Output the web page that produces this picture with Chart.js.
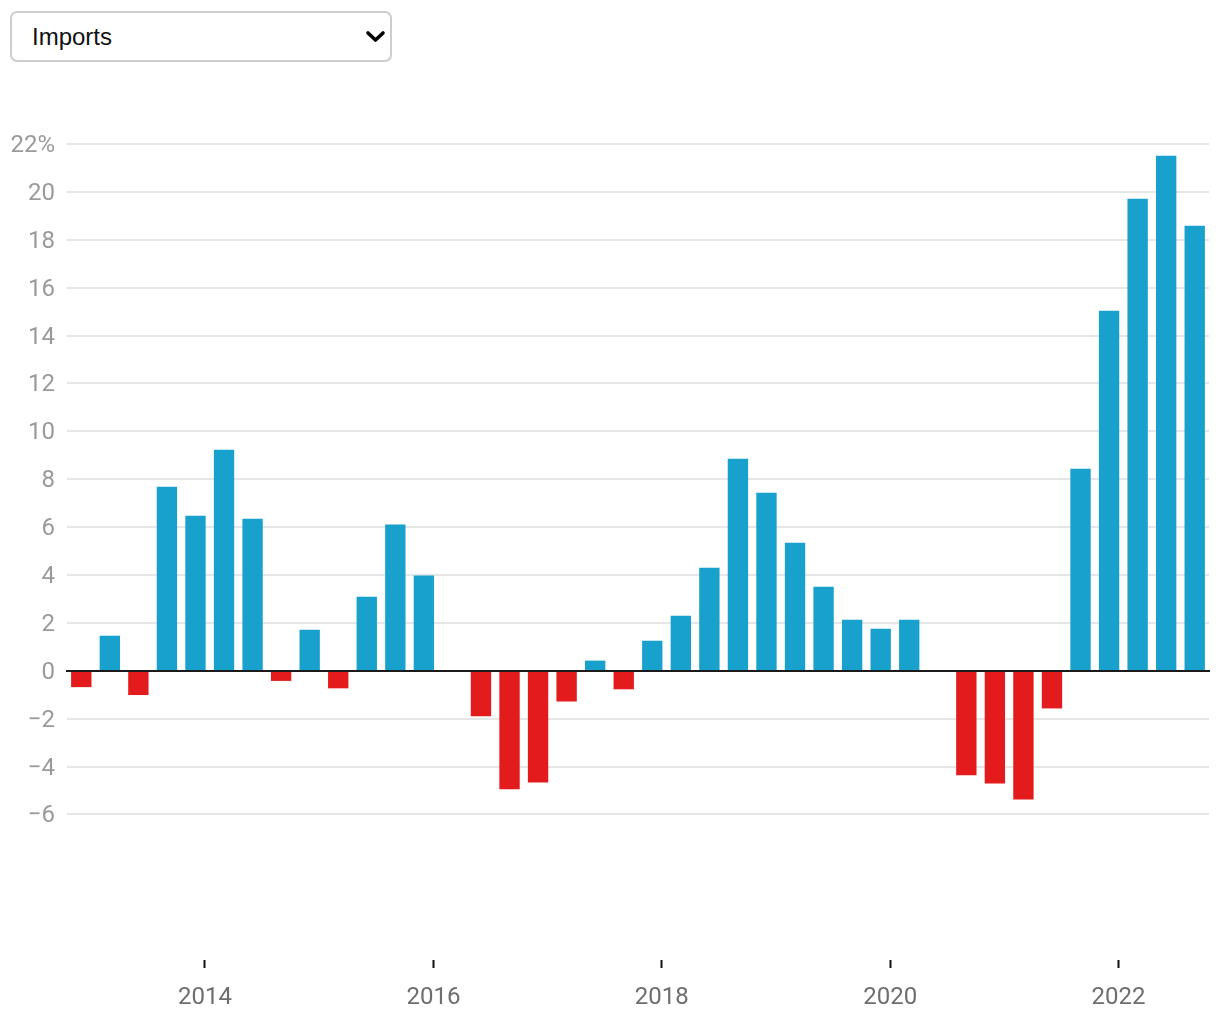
<!DOCTYPE html>
<html>
<head>
<meta charset="utf-8">
<script src="https://cdn.jsdelivr.net/npm/chart.js@4.4.1/dist/chart.umd.min.js"></script>
<style>
html,body{margin:0;padding:0;background:#fff;width:1220px;height:1020px;overflow:hidden}
#wrap{position:absolute;left:0;top:0;width:1220px;height:1020px}
#sel{position:absolute;left:10px;top:11px;width:382px;height:51px;box-sizing:border-box;border:2px solid #cdcdcd;border-radius:7px;background:#fff;font:24px "Liberation Sans",Arial,sans-serif;color:#111;padding:0 0 0 20px;appearance:none;-webkit-appearance:none;-moz-appearance:none;z-index:2;outline:none}
#chev{position:absolute;left:364px;top:28px;z-index:3;pointer-events:none}
</style>
</head>
<body>
<div id="wrap"><canvas id="c" width="1220" height="1020"></canvas></div>
<select id="sel"><option>Imports</option><option>Exports</option></select>
<svg id="chev" width="24" height="18"><polyline points="4,5 11.5,12 19,5" fill="none" stroke="#000" stroke-width="3.6" stroke-linecap="round" stroke-linejoin="round"/></svg>
<script>
// Quarterly periods (year-month of the bar)
const periods = [
  "2012-12","2013-03","2013-06","2013-09","2013-12","2014-03","2014-06","2014-09",
  "2014-12","2015-03","2015-06","2015-09","2015-12","2016-03","2016-06","2016-09",
  "2016-12","2017-03","2017-06","2017-09","2017-12","2018-03","2018-06","2018-09",
  "2018-12","2019-03","2019-06","2019-09","2019-12","2020-03","2020-06","2020-09",
  "2020-12","2021-03","2021-06","2021-09","2021-12","2022-03","2022-06","2022-09"
];
// Year-on-year change, %
const values = [
  -0.67, 1.45, -1.00, 7.67, 6.46, 9.22, 6.34, -0.41,
   1.70, -0.72, 3.08, 6.09, 3.96, 0.00, -1.89, -4.94,
  -4.65, -1.27, 0.41, -0.76, 1.24, 2.28, 4.29, 8.84,
   7.42, 5.33, 3.50, 2.12, 1.74, 2.12, 0.00, -4.35,
  -4.69, -5.36, -1.56, 8.42, 15.02, 19.70, 21.50, 18.57
];
const xTickYears = [2014, 2016, 2018, 2020, 2022];
const yTickValues = [-6, -4, -2, 0, 2, 4, 6, 8, 10, 12, 14, 16, 18, 20, 22];
const yMin = -12.08, yMax = 22;

const BLUE = '#19a1cd', RED = '#e31b1d';

function toYear(p){ const [y,m] = p.split('-').map(Number); return y + (m - 1) / 12; }
const xs = periods.map(toYear);
const points = periods.map((p, i) => ({x: xs[i], y: values[i]}));
const halfStep = (xs[1] - xs[0]) / 2;

const zeroLine = {
  id: 'zeroLine',
  afterDatasetsDraw(chart) {
    const {ctx, chartArea, scales} = chart;
    const y = Math.round(scales.y.getPixelForValue(0));
    ctx.save();
    ctx.strokeStyle = '#1a1a1a';
    ctx.lineWidth = 2;
    ctx.beginPath();
    ctx.moveTo(chartArea.left - 1, y);
    ctx.lineTo(chartArea.right + 1, y);
    ctx.stroke();
    ctx.restore();
  }
};

new Chart(document.getElementById('c'), {
  type: 'bar',
  data: {
    datasets: [{
      data: points,
      backgroundColor: ctx => (ctx.raw && ctx.raw.y < 0) ? RED : BLUE,
      borderWidth: 0,
      barThickness: 19.7
    }]
  },
  options: {
    responsive: false,
    animation: false,
    devicePixelRatio: 1,
    layout: { padding: { top: 144, right: 11, left: 0, bottom: 0 } },
    plugins: { legend: { display: false }, tooltip: { enabled: false } },
    scales: {
      x: {
        type: 'linear',
        offset: false,
        min: xs[0] - halfStep,
        max: xs[xs.length - 1] + halfStep,
        afterBuildTicks: s => { s.ticks = xTickYears.map(v => ({value: v})); },
        afterFit: s => { s.height = 60; },
        border: { display: false },
        grid: { offset: false, drawOnChartArea: false, drawTicks: true, tickLength: 8, tickColor: '#111', tickWidth: 2, color: '#111' },
        ticks: {
          padding: 16,
          color: '#6e6e6e',
          font: { family: 'Roboto', size: 24 },
          maxRotation: 0,
          autoSkip: false,
          callback: v => String(v)
        }
      },
      y: {
        min: yMin,
        max: yMax,
        afterBuildTicks: s => { s.ticks = yTickValues.map(v => ({value: v})); },
        afterFit: s => { s.width = 67; },
        border: { display: false },
        grid: {
          drawTicks: false,
          lineWidth: 2,
          color: ctx => (ctx.tick && ctx.tick.value === 0) ? 'rgba(0,0,0,0)' : '#e6e6e6'
        },
        ticks: {
          padding: 12,
          labelOffset: 2,
          color: '#9a9a9a',
          font: { family: 'Roboto', size: 24 },
          callback: v => v === yMax ? v + '%' : (v < 0 ? '\u2212' + Math.abs(v) : String(v))
        }
      }
    }
  },
  plugins: [zeroLine]
});
</script>
</body>
</html>
